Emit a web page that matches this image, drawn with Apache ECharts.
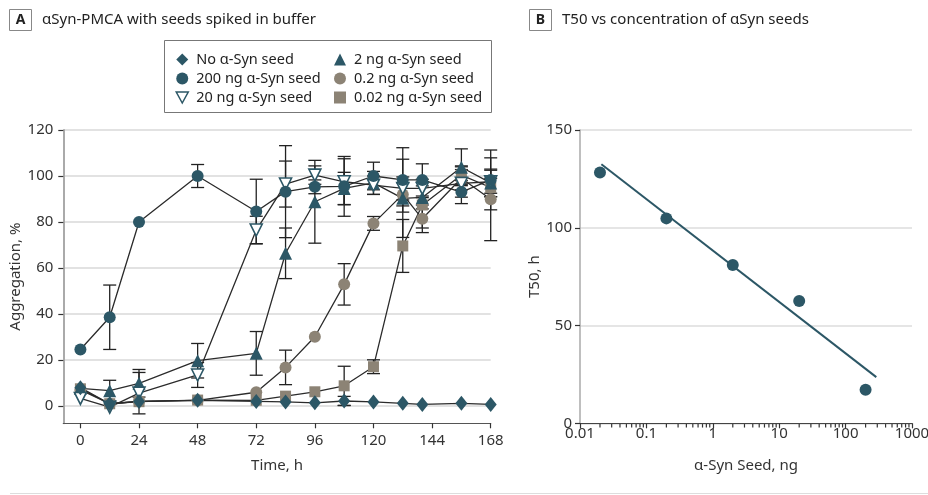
<!DOCTYPE html>
<html>
<head>
<meta charset="utf-8">
<script src="https://cdn.jsdelivr.net/npm/echarts@6/dist/echarts.min.js"></script>
<style>
  html, body { margin: 0; padding: 0; background: #fff; }
  #chart { width: 928px; height: 495px; }
</style>
</head>
<body>
<div id="chart"></div>
<script>
// panel A: aggregation over time
const times = [0, 12, 24, 48, 72, 84, 96, 108, 120, 132, 140, 156, 168]
const xTicks = [0, 24, 48, 72, 96, 120, 144, 168]
const yTicksA = [0, 20, 40, 60, 80, 100, 120]

const noSeed = [8, 1, 2, 2.5, 2, 1.8, 1.4, 2.2, 1.8, 1.2, 0.7, 1.2, 0.7]
const seed200 = [24.6, 38.6, 80, 100, 84.6, 93.2, 95.3, 95.5, 100, 98.3, 98.3, 93, 98.3]
const seed20 = [3.3, -0.5, 5.6, 13.5, 76.5, 96.5, 100.4, 97.5, 96, 94.6, 94.6, 96.8, 97.5]
const seed2 = [7.7, 6.7, 9.9, 19.7, 22.9, 66.4, 88.8, 94.6, 97, 90.3, 90.7, 103.8, 97]
const seed02 = [7, 1, 2, 2.5, 6, 16.8, 30.1, 52.9, 79.4, 92, 81.4, 99, 89.9]
const seed002 = [7.5, 1, 1.9, 2.6, 2.5, 4.3, 6.2, 8.8, 17.1, 69.6, 87.4, 100.4, 95]

// error bar half widths
const errNo = [0, 0, 0, 0, 0, 0, 0, 2, 0, 0, 0, 0, 0]
const err200 = [0, 14, 0, 5, 14, 20, 3, 13, 6, 14, 7, 5, 13]
const err20 = [0, 0, 9, 5.4, 6, 10, 4, 10, 4, 5, 4, 6, 5]
const err2 = [0, 4.5, 6, 7.5, 9.5, 11, 18, 7, 5, 17, 5, 8, 6]
const err02 = [0, 0, 0, 0, 0, 7.5, 0, 9, 3, 5, 6, 5, 18]
const err002 = [0, 0, 0, 0, 0, 0, 0, 8.5, 3, 11.5, 10, 4, 4]

// panel B: T50 vs seed amount
const seedNg = [0.02, 0.2, 2, 20, 200]
const t50 = [128.3, 104.8, 80.9, 62.6, 17.2]
const fitX = [0.021, 290]
const fitY = [132.5, 23.6]
const logMinorTicks = [0.02, 0.03, 0.04, 0.05, 0.06, 0.07, 0.08, 0.09,
  0.2, 0.3, 0.4, 0.5, 0.6, 0.7, 0.8, 0.9,
  2, 3, 4, 5, 6, 7, 8, 9,
  20, 30, 40, 50, 60, 70, 80, 90,
  200, 300, 400, 500, 600, 700, 800, 900]

const TEAL = '#2c5766'
const TAUPE = '#8c8375'
const LINE = '#2b2b2b'
const FONT = 'Noto Sans'
const INV_TRI = 'path://M0,0L12,0L6,11Z'

const chart = echarts.init(document.getElementById('chart'))

function pairs(vals) {
  return times.map((t, i) => [t, vals[i]])
}

function errData(vals, errs) {
  return times.map((t, i) => [t, vals[i], errs[i]]).filter(d => d[2] > 0)
}

function lineSeries(name, vals, symbol, size, itemStyle, extra) {
  return Object.assign({
    name,
    type: 'line',
    xAxisIndex: 0,
    yAxisIndex: 0,
    data: pairs(vals),
    symbol,
    symbolSize: size,
    showAllSymbol: true,
    lineStyle: { color: LINE, width: 1.3 },
    itemStyle: Object.assign({ borderWidth: 0, opacity: 1 }, itemStyle),
    z: 3,
    animation: false,
  }, extra || {})
}

function renderErr(params, api) {
  const x = api.value(0)
  const y = api.value(1)
  const e = api.value(2)
  const hi = api.coord([x, y + e])
  const lo = api.coord([x, y - e])
  const w = 6.5
  const st = { stroke: '#222', lineWidth: 1.3 }
  return {
    type: 'group',
    children: [
      { type: 'line', shape: { x1: hi[0], y1: hi[1], x2: lo[0], y2: lo[1] }, style: st },
      { type: 'line', shape: { x1: hi[0] - w, y1: hi[1], x2: hi[0] + w, y2: hi[1] }, style: st },
      { type: 'line', shape: { x1: lo[0] - w, y1: lo[1], x2: lo[0] + w, y2: lo[1] }, style: st },
    ],
  }
}

const errAll = [].concat(
  errData(noSeed, errNo), errData(seed200, err200), errData(seed20, err20),
  errData(seed2, err2), errData(seed02, err02), errData(seed002, err002)
)

const legendText = { fontFamily: FONT, fontSize: 14.5, color: '#222', lineHeight: 14, padding: [0, 0, 0, 3] }
const tickFont = { fontFamily: FONT, fontSize: 15, color: '#333' }
const nameFont = { fontFamily: FONT, fontSize: 15, color: '#333' }

chart.setOption({
  animation: false,
  textStyle: { fontFamily: FONT },
  graphic: [
    { type: 'rect', shape: { x: 9.5, y: 9.5, width: 22, height: 21 }, style: { fill: '#fff', stroke: '#888', lineWidth: 1 } },
    { type: 'text', x: 20.5, y: 20, style: { text: 'A', fontFamily: FONT, fontSize: 14, fontWeight: 'bold', fill: '#222', align: 'center', verticalAlign: 'middle' } },
    { type: 'text', x: 42, y: 20, style: { text: 'αSyn-PMCA with seeds spiked in buffer', fontFamily: FONT, fontSize: 15, fill: '#222', verticalAlign: 'middle' } },
    { type: 'rect', shape: { x: 529.5, y: 9.5, width: 22, height: 21 }, style: { fill: '#fff', stroke: '#888', lineWidth: 1 } },
    { type: 'text', x: 540.5, y: 20, style: { text: 'B', fontFamily: FONT, fontSize: 14, fontWeight: 'bold', fill: '#222', align: 'center', verticalAlign: 'middle' } },
    { type: 'text', x: 562, y: 20, style: { text: 'T50 vs concentration of αSyn seeds', fontFamily: FONT, fontSize: 15, fill: '#222', verticalAlign: 'middle' } },
    { type: 'rect', shape: { x: 164.5, y: 40.5, width: 327, height: 72 }, style: { fill: 'none', stroke: '#777', lineWidth: 1 } },
    { type: 'line', shape: { x1: 10, y1: 493.5, x2: 928, y2: 493.5 }, style: { stroke: '#ddd', lineWidth: 1 } },
  ],
  legend: [
    {
      orient: 'vertical', left: 175.5, top: 52, padding: 0, itemGap: 4,
      itemWidth: 12, itemHeight: 12, textStyle: legendText,
      data: [
        { name: 'No α-Syn seed', icon: 'diamond' },
        { name: '200 ng α-Syn seed', icon: 'circle' },
        { name: '20 ng α-Syn seed', icon: INV_TRI, itemStyle: { color: '#fff', borderColor: TEAL, borderWidth: 1.5 } },
      ],
    },
    {
      orient: 'vertical', left: 334, top: 52, padding: 0, itemGap: 4,
      itemWidth: 12, itemHeight: 12, textStyle: legendText,
      data: [
        { name: '2 ng α-Syn seed', icon: 'triangle' },
        { name: '0.2 ng α-Syn seed', icon: 'circle' },
        { name: '0.02 ng α-Syn seed', icon: 'rect' },
      ],
    },
  ],
  grid: [
    { left: 63.3, top: 130, width: 427.4, height: 293.3, outerBoundsMode: 'none' },
    { left: 580, top: 130, width: 332, height: 293.3, outerBoundsMode: 'none' },
  ],
  xAxis: [
    {
      gridIndex: 0, type: 'value', min: -7, max: 168,
      name: 'Time, h', nameLocation: 'middle', nameGap: 35,
      nameTextStyle: nameFont,
      axisLine: { onZero: false, lineStyle: { color: '#555', width: 1.2 } },
      axisTick: { customValues: xTicks, length: 5, lineStyle: { color: '#333', width: 1.2 } },
      axisLabel: Object.assign({ customValues: xTicks, margin: 10 }, tickFont),
      splitLine: { show: false },
    },
    {
      gridIndex: 1, type: 'log', logBase: 10, min: 0.01, max: 1000,
      name: 'α-Syn Seed, ng', nameLocation: 'middle', nameGap: 35,
      nameTextStyle: nameFont,
      axisLine: { onZero: false, lineStyle: { color: '#444', width: 1.2 } },
      axisTick: { length: 5, lineStyle: { color: '#333', width: 1.2 } },
      axisLabel: Object.assign({ margin: 3, formatter: v => String(+(+v).toPrecision(3)) }, tickFont),
      splitLine: { show: false },
    },
  ],
  yAxis: [
    {
      gridIndex: 0, type: 'value', min: -7.5, max: 120,
      name: 'Aggregation, %', nameLocation: 'middle', nameGap: 38,
      nameTextStyle: nameFont,
      axisLine: { show: true, onZero: false, lineStyle: { color: '#aaa', width: 2 } },
      axisTick: { show: true, customValues: yTicksA, length: 5, lineStyle: { color: '#333', width: 1.2 } },
      axisLabel: Object.assign({ customValues: yTicksA, margin: 10 }, tickFont),
      splitLine: { show: true, lineStyle: { color: '#e2e2e2', width: 2 } },
    },
    {
      gridIndex: 1, type: 'value', min: 0, max: 150, interval: 50,
      name: 'T50, h', nameLocation: 'middle', nameGap: 36,
      nameTextStyle: nameFont,
      axisLine: { show: true, onZero: false, lineStyle: { color: '#aaa', width: 1.5 } },
      axisTick: { show: true, length: 5, lineStyle: { color: '#333', width: 1.2 } },
      axisLabel: Object.assign({ margin: 8 }, tickFont),
      splitLine: { show: true, lineStyle: { color: '#dcdcdc', width: 1.5 } },
    },
  ],
  series: [
    {
      type: 'custom', name: 'err', xAxisIndex: 0, yAxisIndex: 0,
      data: errAll, renderItem: renderErr, z: 2, silent: true,
    },
    // grey series first so the teal markers sit on top, as in the figure
    lineSeries('0.02 ng α-Syn seed', seed002, 'rect', 11, { color: TAUPE }),
    lineSeries('0.2 ng α-Syn seed', seed02, 'circle', 12, { color: TAUPE }),
    lineSeries('2 ng α-Syn seed', seed2, 'triangle', 13, { color: TEAL }),
    lineSeries('20 ng α-Syn seed', seed20, 'triangle', 12,
      { color: '#fff', borderColor: TEAL, borderWidth: 1.6 }, { symbolRotate: 180 }),
    lineSeries('200 ng α-Syn seed', seed200, 'circle', 12, { color: TEAL }),
    lineSeries('No α-Syn seed', noSeed, 'diamond', [12, 15], { color: TEAL }),
    {
      type: 'scatter', name: 'minor', xAxisIndex: 1, yAxisIndex: 1,
      data: logMinorTicks.map(v => [v, 0]),
      symbol: 'rect', symbolSize: [1.2, 3.5], symbolOffset: [0, 2.5],
      itemStyle: { color: '#333', opacity: 1 }, silent: true, clip: false, z: 1,
    },
    {
      type: 'line', name: 'fit', xAxisIndex: 1, yAxisIndex: 1,
      data: fitX.map((x, i) => [x, fitY[i]]),
      showSymbol: false, lineStyle: { color: TEAL, width: 2 }, z: 2,
    },
    {
      type: 'scatter', name: 'T50', xAxisIndex: 1, yAxisIndex: 1,
      data: seedNg.map((x, i) => [x, t50[i]]),
      symbol: 'circle', symbolSize: 12, itemStyle: { color: TEAL, opacity: 1 }, z: 3,
    },
  ],
})
</script>
</body>
</html>
